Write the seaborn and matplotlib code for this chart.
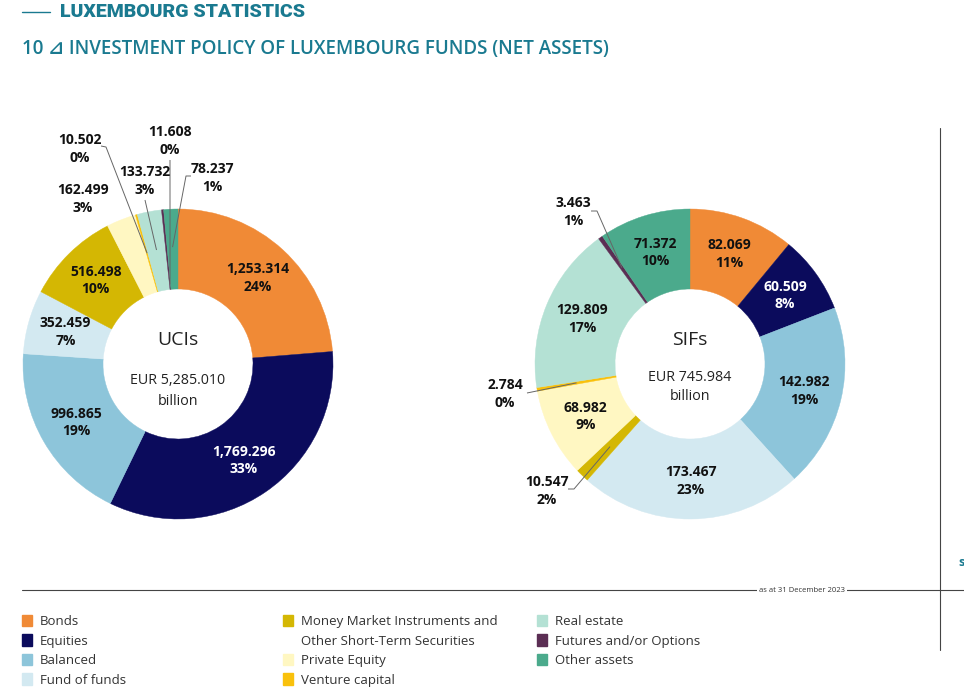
import numpy as np
import matplotlib
matplotlib.use('Agg')
import matplotlib.pyplot as plt
import matplotlib.patches as mpatches
import seaborn as sns

# -----------------------------
# Data (EUR billion, as at 31 December 2023)
# -----------------------------
categories = ['Bonds', 'Equities', 'Balanced', 'Fund of funds',
              'Money Market Instruments and\nOther Short-Term Securities',
              'Private Equity', 'Venture capital', 'Real estate',
              'Futures and/or Options', 'Other assets']
uci_values = [1253.314, 1769.296, 996.865, 352.459, 516.498,
              162.499, 10.502, 133.732, 11.608, 78.237]
uci_pct = [24, 33, 19, 7, 10, 3, 0, 3, 0, 1]
sif_values = [82.069, 60.509, 142.982, 173.467, 10.547,
              68.982, 2.784, 129.809, 3.463, 71.372]
sif_pct = [11, 8, 19, 23, 2, 9, 0, 17, 1, 10]

colors = ['#F08A36', '#0B0B5C', '#8DC5DA', '#D3E9F1', '#D4B703',
          '#FFF7C2', '#F9C10C', '#B4E1D4', '#5B2E54', '#4BAA8C']

TEAL = '#1A7A90'
W, H = 964, 694

sns.set_theme(style='white')
plt.rcParams['font.family'] = ['Open Sans', 'DejaVu Sans']

fig = plt.figure(figsize=(W / 100, H / 100), dpi=100)
ax = fig.add_axes([0, 0, 1, 1])

R_OUT, RING = 155, 80
LABEL_R = 117


def Y(y):
    # image y (top-down) -> axes y
    return H - y


def draw_donut(cx, cy, values, pct, name, inside, outside, sub_dy):
    wedges, _ = ax.pie(values, colors=sns.color_palette(colors), startangle=90,
                       counterclock=False, radius=R_OUT, center=(cx, Y(cy)),
                       wedgeprops=dict(width=RING, linewidth=0.3))
    for w in wedges:
        w.set_edgecolor(w.get_facecolor())
    total = sum(values)
    for i, w in enumerate(wedges):
        mid = np.deg2rad((w.theta1 + w.theta2) / 2)
        txt = f'{values[i]:,.3f}\n{pct[i]}%'
        if i in inside:
            col = 'white' if i == 1 else '#111111'
            ax.text(cx + LABEL_R * np.cos(mid), Y(cy) + LABEL_R * np.sin(mid), txt,
                    ha='center', va='center', fontsize=10, fontweight='bold',
                    color=col, linespacing=1.3)
        elif i in outside:
            tx, ty, path, r_end = outside[i]
            ax.text(tx, Y(ty), txt, ha='center', va='center', fontsize=10,
                    fontweight='bold', color='#111111', linespacing=1.3)
            if path:
                xs = [p[0] for p in path] + [cx + r_end * np.cos(mid)]
                ys = [Y(p[1]) for p in path] + [Y(cy) + r_end * np.sin(mid)]
                ax.plot(xs, ys, color='#666666', lw=0.7, solid_capstyle='butt')
    ax.text(cx, Y(cy - 24), name, ha='center', va='center', fontsize=14, color='#222222')
    ax.text(cx, Y(cy + sub_dy), f'EUR {total:,.3f}\nbillion', ha='center', va='center',
            fontsize=10.3, color='#222222', linespacing=1.5 if sub_dy > 25 else 1.3)


# UCIs donut
draw_donut(178, 364, uci_values, uci_pct, 'UCIs',
           inside=[0, 1, 2, 3, 4],
           outside={5: (83, 199, None, 0),
                    6: (80, 149, [(101, 146), (106, 147)], 115),
                    7: (145, 181, [(145, 200)], 116),
                    8: (170, 141, [(170, 160)], 80),
                    9: (212, 178, [(191, 176), (186, 176)], 117)},
           sub_dy=27)

# SIFs donut
draw_donut(690, 364, sif_values, sif_pct, 'SIFs',
           inside=[0, 1, 2, 3, 5, 7, 9],
           outside={4: (547, 491, [(568, 489), (574, 489)], 115),
                    6: (505, 394, [(527, 393)], 115),
                    8: (573, 212, [(591, 211), (597, 211)], 118)},
           sub_dy=23)

ax.set_xlim(0, W)
ax.set_ylim(0, H)
ax.set_aspect('equal')
ax.axis('off')

# Header
ax.plot([22, 50], [Y(12), Y(12)], color=TEAL, lw=1.0)
ax.text(60, Y(12), 'LUXEMBOURG STATISTICS', ha='left', va='center',
        fontsize=14, fontweight='black', color=TEAL, family=['Roboto', 'DejaVu Sans'])
ax.text(22, Y(49), '10 \u22BF INVESTMENT POLICY OF LUXEMBOURG FUNDS (NET ASSETS)',
        ha='left', va='center', fontsize=13.5, fontweight='semibold', color=TEAL,
        family=['Open Sans', 'DejaVu Sans'])

# Frame lines
ax.plot([22, W], [Y(590), Y(590)], color='#444444', lw=0.8)
ax.plot([940, 940], [Y(128), Y(650)], color='#444444', lw=0.8)
ax.text(802, Y(590), 'as at 31 December 2023', ha='center', va='center', fontsize=5.5,
        color='#333333', bbox=dict(facecolor='white', edgecolor='none', pad=1.5))
ax.text(958, Y(563), 's', ha='left', va='center', fontsize=9, fontweight='bold', color=TEAL)

# Legend in three columns; two-line entry split so the swatch sits on the first line
handles = [mpatches.Patch(color=c) for c in colors]
blank = mpatches.Patch(color='none')
mm_first, mm_second = categories[4].split('\n')
columns = [
    ([handles[i] for i in range(4)], categories[0:4], 22),
    ([handles[4], blank, handles[5], handles[6]],
     [mm_first, mm_second, categories[5], categories[6]], 283),
    ([handles[i] for i in range(7, 10)], categories[7:10], 537),
]
for hs, labels, x0 in columns:
    leg = fig.legend(hs, labels, loc='upper left', bbox_to_anchor=(x0 / W, 1 - 615 / H),
                     frameon=False, fontsize=9.5, handlelength=0.75, handleheight=0.95,
                     handletextpad=0.6, labelspacing=0.47, borderpad=0, borderaxespad=0)
    for t in leg.get_texts():
        t.set_color('#333333')

fig.savefig('out.png', dpi=100)
